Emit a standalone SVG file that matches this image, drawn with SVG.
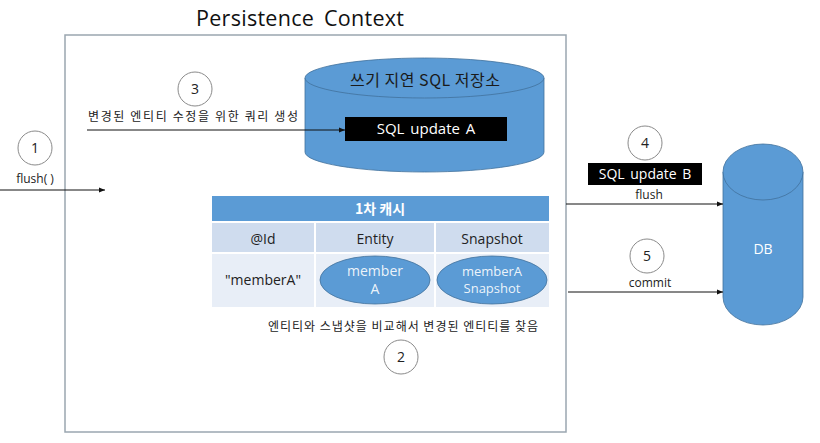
<svg xmlns="http://www.w3.org/2000/svg" width="820" height="443" viewBox="0 0 820 443">
<defs>
<style>
text{font-family:"Open Sans","Noto Sans CJK KR",sans-serif;}
.ko{font-family:"Noto Sans CJK KR","Open Sans",sans-serif;}
.num{font-size:14px;fill:#222;text-anchor:middle;}
.step{fill:#fff;stroke:#8a8a8a;stroke-width:1;}
.lbl{font-size:12px;fill:#222;text-anchor:middle;}
.blue{fill:#5B9BD5;stroke:#41719C;stroke-width:0.8;}
.conn{stroke:#111;stroke-width:1;fill:none;marker-end:url(#ah);}
.wt{fill:#fff;text-anchor:middle;}
.hd{font-size:14px;fill:#222;text-anchor:middle;}
</style>
<marker id="ah" viewBox="0 0 10 10" refX="10" refY="5" markerWidth="6" markerHeight="6" orient="auto" markerUnits="userSpaceOnUse">
<path d="M0,1 L10,5 L0,9 z" fill="#111"/>
</marker>
</defs>
<rect width="820" height="443" fill="#fff"/>

<g id="persistence-context">
<rect x="65" y="35" width="501" height="397" fill="#fff" stroke="#9AA6B0" stroke-width="1.5"/>
<text x="300" y="26" font-size="21.5" text-anchor="middle" fill="#111" word-spacing="4" textLength="208" lengthAdjust="spacing">Persistence Context</text>
</g>

<g id="write-store">
<path class="blue" d="M305,78 L305,152 A119.5,20 0 0 0 544,152 L544,78"/>
<ellipse class="blue" cx="424.5" cy="78" rx="119.5" ry="20"/>
<text class="ko" x="425" y="86" font-size="16" text-anchor="middle" fill="#1a1a1a" textLength="150" lengthAdjust="spacing">쓰기 지연 SQL 저장소</text>
<rect x="345" y="117" width="162" height="24" fill="#000"/>
<text class="wt" x="426" y="134" font-size="15" word-spacing="2">SQL update A</text>
</g>

<g id="cache">
<rect x="212" y="196" width="337" height="26" fill="#5B9BD5"/>
<text class="ko wt" x="380" y="214" font-size="14" font-weight="bold">1차 캐시</text>
<rect x="212" y="222" width="337" height="31" fill="#CFDCEE"/>
<rect x="212" y="253" width="337" height="54" fill="#E8EEF7"/>
<line x1="212" y1="222" x2="549" y2="222" stroke="#fff" stroke-width="2"/>
<line x1="212" y1="253" x2="549" y2="253" stroke="#fff" stroke-width="2"/>
<line x1="315" y1="222" x2="315" y2="307" stroke="#fff" stroke-width="2"/>
<line x1="435" y1="222" x2="435" y2="307" stroke="#fff" stroke-width="2"/>
<text class="hd" x="263" y="244">@Id</text>
<text class="hd" x="375" y="244">Entity</text>
<text class="hd" x="492" y="244">Snapshot</text>
<text class="hd" x="263" y="285" font-size="15">"memberA"</text>
</g>

<g id="entity-memberA">
<ellipse class="blue" cx="375" cy="280" rx="55" ry="24"/>
<text class="wt" x="375" y="276" font-size="14" fill-opacity="0.9">member</text>
<text class="wt" x="375" y="294" font-size="14" fill-opacity="0.9">A</text>
</g>

<g id="snapshot-memberA">
<ellipse class="blue" cx="492" cy="280" rx="55" ry="24"/>
<text class="wt" x="492" y="276" font-size="13" fill-opacity="0.9">memberA</text>
<text class="wt" x="492" y="293" font-size="13" fill-opacity="0.9">Snapshot</text>
</g>

<g id="db">
<path class="blue" d="M723,172 L723,297 A40,28 0 0 0 803,297 L803,172"/>
<ellipse class="blue" cx="763" cy="172" rx="40" ry="28"/>
<text class="wt" x="763" y="254" font-size="14">DB</text>
</g>

<g id="step1">
<circle class="step" cx="35" cy="148" r="17"/>
<text class="num" x="35" y="153">1</text>
<text class="lbl" x="35" y="183" font-size="11">flush( )</text>
</g>

<g id="step2">
<circle class="step" cx="401" cy="357" r="17"/>
<text class="num" x="401" y="362">2</text>
<text class="ko lbl" x="403" y="331" font-size="12.5" textLength="270" lengthAdjust="spacing">엔티티와 스냅샷을 비교해서 변경된 엔티티를 찾음</text>
</g>

<g id="step3">
<circle class="step" cx="195" cy="89" r="17"/>
<text class="num" x="195" y="94">3</text>
<text class="ko lbl" x="193" y="121" font-size="12.5" textLength="210" lengthAdjust="spacing">변경된 엔티티 수정을 위한 쿼리 생성</text>
</g>

<g id="step4">
<circle class="step" cx="645" cy="143" r="17"/>
<text class="num" x="645" y="148">4</text>
<rect x="588" y="163" width="114" height="22" fill="#000"/>
<text class="wt" x="645" y="179" font-size="14" word-spacing="2">SQL update B</text>
<text class="lbl" x="649" y="199" font-size="11">flush</text>
</g>

<g id="step5">
<circle class="step" cx="647" cy="256" r="17"/>
<text class="num" x="647" y="261">5</text>
<text class="lbl" x="650" y="287" font-size="11">commit</text>
</g>

<g id="connectors">
<line class="conn" x1="0" y1="190" x2="105" y2="190"/>
<line class="conn" x1="87" y1="130" x2="345" y2="130"/>
<line class="conn" x1="566" y1="204" x2="723" y2="204"/>
<line class="conn" x1="568" y1="292" x2="723" y2="292"/>
</g>
</svg>
